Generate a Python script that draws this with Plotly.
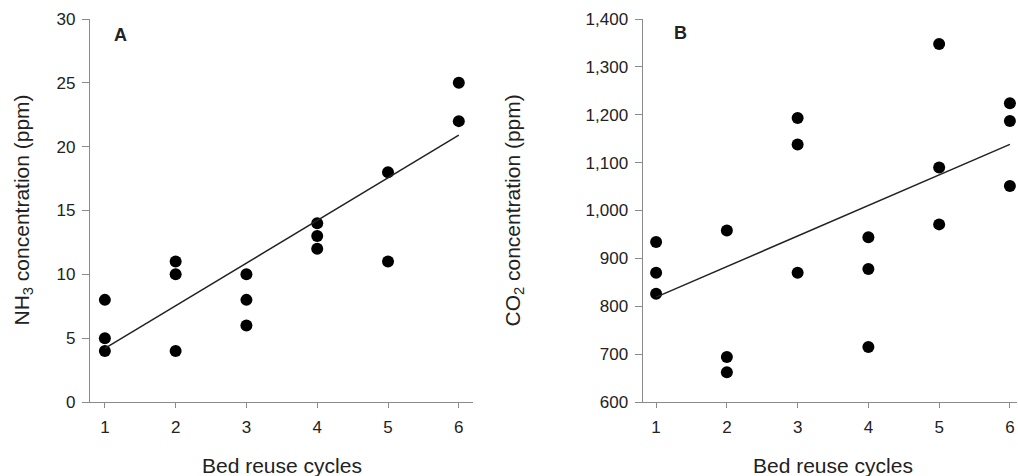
import plotly.graph_objects as go

# Panel A: NH3
cycles_a = [1, 1, 1, 2, 2, 2, 3, 3, 3, 4, 4, 4, 5, 5, 6, 6]
nh3 = [8, 5, 4, 11, 10, 4, 10, 8, 6, 14, 13, 12, 18, 11, 25, 22]
trend_x_a = [1, 6]
trend_y_a = [4.2, 20.9]

# Panel B: CO2
cycles_b = [1, 1, 1, 2, 2, 2, 3, 3, 3, 4, 4, 4, 5, 5, 5, 6, 6, 6]
co2 = [934, 870, 826, 958, 694, 662, 1193, 1138, 870, 944, 878, 715,
       1348, 1090, 971, 1224, 1187, 1051]
trend_x_b = [1, 6]
trend_y_b = [819, 1138]

x_ticks = [1, 2, 3, 4, 5, 6]
ya_ticks = [0, 5, 10, 15, 20, 25, 30]
yb_ticks = [600, 700, 800, 900, 1000, 1100, 1200, 1300, 1400]
yb_labels = ["600", "700", "800", "900", "1,000", "1,100", "1,200", "1,300", "1,400"]

FONT = "Liberation Sans, Arial, sans-serif"
TXT = "#222222"
AX = "#8a8a8a"

fig = go.Figure()
fig.add_trace(go.Scatter(x=cycles_a, y=nh3, mode="markers",
                         marker=dict(color="black", size=12),
                         xaxis="x", yaxis="y", showlegend=False))
fig.add_trace(go.Scatter(x=trend_x_a, y=trend_y_a, mode="lines",
                         line=dict(color="#222222", width=1.5),
                         xaxis="x", yaxis="y", showlegend=False))
fig.add_trace(go.Scatter(x=cycles_b, y=co2, mode="markers",
                         marker=dict(color="black", size=12),
                         xaxis="x2", yaxis="y2", showlegend=False))
fig.add_trace(go.Scatter(x=trend_x_b, y=trend_y_b, mode="lines",
                         line=dict(color="#222222", width=1.5),
                         xaxis="x2", yaxis="y2", showlegend=False))

common_x = dict(showgrid=False, zeroline=False, showline=True, linecolor=AX,
                linewidth=1.3, ticks="outside", ticklen=5, tickcolor=AX,
                ticklabelstandoff=4,
                tickvals=x_ticks, tickfont=dict(size=17, color=TXT, family=FONT))
common_y = dict(showgrid=False, zeroline=False, showline=True, linecolor=AX,
                linewidth=1.3, ticks="outside", ticklen=7, tickcolor=AX,
                ticklabelstandoff=3,
                tickfont=dict(size=17, color=TXT, family=FONT))

fig.update_layout(
    width=1018, height=476,
    margin=dict(l=0, r=0, t=19, b=74),
    paper_bgcolor="white", plot_bgcolor="white",
    font=dict(family=FONT, color=TXT),
    xaxis=dict(domain=[0.0884, 0.4646], range=[0.79, 6.2], anchor="y", **common_x),
    yaxis=dict(domain=[0, 1], range=[0, 30], anchor="x", tickvals=ya_ticks, **common_y),
    xaxis2=dict(domain=[0.6313, 0.999], range=[0.81, 6.1], anchor="y2", **common_x),
    yaxis2=dict(domain=[0, 1], range=[600, 1400], anchor="x2", tickvals=yb_ticks,
                ticktext=yb_labels, **common_y),
    annotations=[
        dict(text="<b>A</b>", x=120 / 1018, y=(402 - 35) / 383, xref="paper", yref="paper",
             showarrow=False, font=dict(size=18, color=TXT, family=FONT),
             xanchor="center", yanchor="middle"),
        dict(text="<b>B</b>", x=680 / 1018, y=(402 - 33) / 383, xref="paper", yref="paper",
             showarrow=False, font=dict(size=18, color=TXT, family=FONT),
             xanchor="center", yanchor="middle"),
        dict(text="NH<sub>3</sub> concentration (ppm)", x=22 / 1018, y=0.5,
             xref="paper", yref="paper", textangle=-90, showarrow=False,
             font=dict(size=21, color=TXT, family=FONT), xanchor="center", yanchor="middle"),
        dict(text="CO<sub>2</sub> concentration (ppm)", x=513 / 1018, y=0.5,
             xref="paper", yref="paper", textangle=-90, showarrow=False,
             font=dict(size=21, color=TXT, family=FONT), xanchor="center", yanchor="middle"),
        dict(text="Bed reuse cycles", x=281.5 / 1018, y=(402 - 465) / 383,
             xref="paper", yref="paper", showarrow=False,
             font=dict(size=21, color=TXT, family=FONT), xanchor="center", yanchor="middle"),
        dict(text="Bed reuse cycles", x=833 / 1018, y=(402 - 465) / 383,
             xref="paper", yref="paper", showarrow=False,
             font=dict(size=21, color=TXT, family=FONT), xanchor="center", yanchor="middle"),
    ],
)

fig.write_html("out.html", config={"displayModeBar": False},
               post_script="document.body.style.margin='0';document.body.style.overflow='hidden';")
